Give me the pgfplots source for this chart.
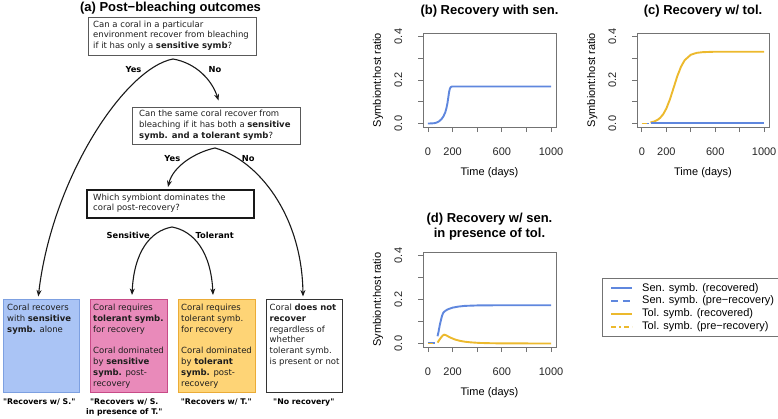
\documentclass[border=0pt]{standalone}
\usepackage{fontspec}
\setmainfont{Liberation Sans}
\newfontfamily\dv{DejaVu Sans}
\usepackage{pgfplots}
\pgfplotsset{compat=1.18}
\usetikzlibrary{arrows.meta}

\definecolor{sen}{RGB}{95,135,222}
\definecolor{tol}{RGB}{236,185,45}
\definecolor{boxblue}{RGB}{170,196,245}
\definecolor{boxbluedk}{RGB}{125,160,225}
\definecolor{boxpink}{RGB}{233,138,186}
\definecolor{boxpinkdk}{RGB}{200,75,135}
\definecolor{boxyel}{RGB}{254,212,118}
\definecolor{boxyeldk}{RGB}{235,172,55}
\definecolor{axgray}{RGB}{115,115,115}
\definecolor{fctext}{RGB}{30,30,30}

\newcommand\fcf{\dv\fontsize{8.5}{10.8}\selectfont}
\newcommand\fcl{\dv\bfseries\fontsize{8.3}{10}\selectfont}
\newcommand\fcq{\dv\bfseries\fontsize{7.8}{10}\selectfont}

\pgfplotsset{
 rplot/.style={
  scale only axis, width=133pt, height=94pt, anchor=south west,
  xmin=-40, xmax=1040, ymin=-0.016, ymax=0.416,
  axis line style={draw=axgray, line width=0.8pt},
  every tick/.style={draw=axgray, line width=0.8pt},
  tick align=outside, tick pos=left, major tick length=5pt,
  xtick={0,200,400,600,800,1000}, xticklabels={0,200,,600,,1000},
  ytick={0,0.1,0.2,0.3,0.4}, yticklabels={0.0,,0.2,,0.4},
  /pgf/number format/assume math mode=true,
  tick label style={font=\fontsize{11}{13}\selectfont, text=black!85, inner sep=0pt},
  xticklabel style={anchor=base, yshift=-23pt},
  yticklabel style={xshift=-16pt, rotate=90, anchor=base},
  xlabel={Time (days)}, ylabel={Symbiont:host ratio},
  xlabel style={at={(axis description cs:0.5,0)}, anchor=center, yshift=-45.5pt, font=\fontsize{11}{13}\selectfont, inner sep=0pt},
  ylabel style={at={(axis description cs:-0.338,0.5)}, anchor=center, font=\fontsize{11}{13}\selectfont, inner sep=0pt},
 },
 senl/.style={draw=sen, line width=1.9pt},
 toll/.style={draw=tol, line width=1.9pt},
 send/.style={draw=sen, line width=1.9pt, dash pattern=on 7pt off 4.5pt},
 told/.style={draw=tol, line width=1.9pt, dash pattern=on 5pt off 3pt on 2pt off 3pt},
}

\tikzset{
 fc/.style={inner sep=0pt, font=\fcf, text=fctext, anchor=base west},
 fl/.style={inner sep=0pt, font=\fcl, text=black},
 fq/.style={inner sep=0pt, font=\fcq, text=black, anchor=base},
 pt/.style={inner sep=0pt, anchor=base, font=\bfseries\fontsize{13}{15}\selectfont},
 arr/.style={line width=1.1pt, draw=black!90, -{Stealth[length=6.5pt,width=5pt]}},
}

\begin{document}
\begin{tikzpicture}
\path[use as bounding box] (0,0) rectangle (778pt,418pt);

\begin{scope}[x=1pt,y=-1pt,yshift=418pt]
 \node[pt] at (170.5,11.5) {(a) Post−bleaching outcomes};
 \node[pt] at (489.5,14.3) {(b) Recovery with sen.};
 \node[pt] at (703,14.3) {(c) Recovery w/ tol.};
 \node[pt] at (489.5,222.5) {(d) Recovery w/ sen.};
 \node[pt] at (489.5,237.5) {in presence of tol.};

 % question boxes
 \draw[draw=black!65, line width=0.9pt] (88,17) rectangle (256,55);
 \node[fc] at (93,27.2) {Can a coral in a particular};
 \node[fc] at (93,37.8) {environment recover from bleaching};
 \node[fc] at (93,48.4) {if it has only a \textbf{sensitive symb}?};

 \draw[draw=black!65, line width=0.9pt] (132,107) rectangle (300,144);
 \node[fc] at (139,116.5) {Can the same coral recover from};
 \node[fc] at (139,127.3) {bleaching if it has both a \textbf{sensitive}};
 \node[fc] at (139,138.1) {\textbf{symb. and a tolerant symb}?};

 \draw[draw=black!90, line width=1.2pt] (87,190) rectangle (254,218);
 \node[fc] at (93,200) {Which symbiont dominates the};
 \node[fc] at (93,210.8) {coral post-recovery?};

 % arrows
 \draw[arr] (173,59) .. controls (125,68) and (52,178) .. (38.3,296.5);
 \draw[arr] (173,59) .. controls (196,63) and (212,80) .. (218.5,100.5);
 \draw[arr] (215,148) .. controls (196,152) and (173,166) .. (168,187);
 \draw[arr] (215,148) .. controls (258,160) and (302,215) .. (303,296.5);
 \draw[arr] (172,227) .. controls (150,231) and (134,252) .. (132,295);
 \draw[arr] (172,227) .. controls (194,231) and (211,252) .. (213,295);

 \node[fl] at (133.5,69.8) {Yes};
 \node[fl] at (215,69.8) {No};
 \node[fl] at (172.3,158.7) {Yes};
 \node[fl] at (248.3,158.7) {No};
 \node[fl] at (128.3,235) {Sensitive};
 \node[fl] at (214.7,235) {Tolerant};

 % outcome boxes
 \draw[fill=boxblue, draw=boxbluedk, line width=0.9pt] (3,299) rectangle (79,392);
 \draw[fill=boxpink, draw=boxpinkdk, line width=0.9pt] (90,299) rectangle (167,392);
 \draw[fill=boxyel, draw=boxyeldk, line width=0.9pt] (178,299) rectangle (255,392);
 \draw[fill=white, draw=black!80, line width=0.9pt] (266,299) rectangle (342,392);

 \node[fc] at (7,310.5) {Coral recovers};
 \node[fc] at (7,321.3) {with \textbf{sensitive}};
 \node[fc] at (7,332.1) {\textbf{symb.} alone};

 \node[fc] at (93,310.5) {Coral requires};
 \node[fc] at (93,321.3) {\textbf{tolerant symb.}};
 \node[fc] at (93,332.1) {for recovery};
 \node[fc] at (93,353.7) {Coral dominated};
 \node[fc] at (93,364.5) {by \textbf{sensitive}};
 \node[fc] at (93,375.3) {\textbf{symb.} post-};
 \node[fc] at (93,386.1) {recovery};

 \node[fc] at (181,310.5) {Coral requires};
 \node[fc] at (181,321.3) {tolerant symb.};
 \node[fc] at (181,332.1) {for recovery};
 \node[fc] at (181,353.7) {Coral dominated};
 \node[fc] at (181,364.5) {by \textbf{tolerant}};
 \node[fc] at (181,375.3) {\textbf{symb.} post-};
 \node[fc] at (181,386.1) {recovery};

 \node[fc] at (269.5,310.5) {Coral \textbf{does not}};
 \node[fc] at (269.5,321.3) {\textbf{recover}};
 \node[fc] at (269.5,332.1) {regardless of};
 \node[fc] at (269.5,342.9) {whether};
 \node[fc] at (269.5,353.7) {tolerant symb.};
 \node[fc] at (269.5,364.5) {is present or not};

 \node[fq] at (39.2,404.5) {"Recovers w/ S."};
 \node[fq] at (124.3,404.5) {"Recovers w/ S.};
 \node[fq] at (124.3,414.5) {in presence of T."};
 \node[fq] at (216.2,404.5) {"Recovers w/ T."};
 \node[fq] at (303.8,404.5) {"No recovery"};
\end{scope}

% (b)
\begin{axis}[rplot, at={(423pt,291pt)}]
\addplot[senl] coordinates {(0,0) (30,0.0005) (50,0.0015) (70,0.004) (90,0.01) (110,0.02) (125,0.032) (140,0.05) (150,0.07) (158,0.092) (165,0.118) (172,0.145) (178,0.16) (185,0.167) (195,0.17) (220,0.17) (1000,0.17)};
\end{axis}

% (c)
\begin{axis}[rplot, width=132pt, at={(637pt,291pt)}]
\addplot[send] coordinates {(0,0) (55,0)};
\addplot[told] coordinates {(0,0) (55,0)};
\addplot[toll] coordinates {(70,0.0048) (100,0.0092) (130,0.0174) (150,0.0264) (175,0.0434) (200,0.0689) (230,0.112) (260,0.165) (290,0.218) (320,0.261) (350,0.291) (400,0.316) (450,0.325) (500,0.328) (600,0.33) (1000,0.33)};
\addplot[senl] coordinates {(75,0.0005) (1000,0.0005)};
\end{axis}

% (d)
\begin{axis}[rplot, height=95pt, at={(423pt,71pt)},
  legend style={at={(axis description cs:1.346,0.726)}, anchor=north west, draw=axgray, line width=0.6pt,
    font=\fontsize{11}{12.8}\selectfont, inner xsep=8pt, inner ysep=3.5pt, row sep=0pt,
    nodes={inner sep=0pt, text height=9.3pt, text depth=3.5pt},
    /tikz/every odd column/.append style={column sep=9pt}},
  legend cell align=left,
  legend image code/.code={\draw[#1] (0pt,0pt) -- (21pt,0pt);},
]
\addplot[send, forget plot] coordinates {(0,0.001) (55,0.001)};
\addplot[told, forget plot] coordinates {(0,0) (55,0)};
\addplot[senl, forget plot] coordinates {(78,0.033) (85,0.05) (95,0.08) (105,0.105) (115,0.127) (125,0.14) (140,0.148) (160,0.155) (200,0.163) (250,0.168) (300,0.171) (400,0.173) (600,0.174) (1000,0.174)};
\addplot[toll, forget plot] coordinates {(78,0.004) (90,0.014) (105,0.026) (120,0.036) (132,0.04) (145,0.038) (165,0.032) (190,0.025) (220,0.018) (260,0.012) (300,0.008) (350,0.005) (420,0.0025) (520,0.001) (650,0.0003) (1000,0)};
\addlegendimage{senl}\addlegendentry{Sen. symb. (recovered)}
\addlegendimage{send}\addlegendentry{Sen. symb. (pre−recovery)}
\addlegendimage{toll}\addlegendentry{Tol. symb. (recovered)}
\addlegendimage{told}\addlegendentry{Tol. symb. (pre−recovery)}
\end{axis}
\end{tikzpicture}
\end{document}
